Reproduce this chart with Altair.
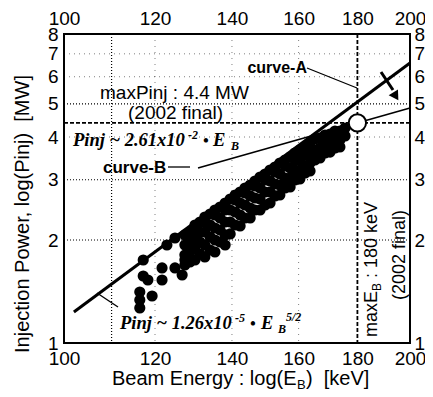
import altair as alt
import pandas as pd

SANS = "Liberation Sans, Arial, Helvetica, sans-serif"
SERIF = "Liberation Serif, Times New Roman, serif"

# ---- data ----
beam_energy = [
    116.4, 116.4, 116.4, 119.3, 117.2, 118.3, 117.2, 121.7, 121.7, 122.9, 124.9, 126.7, 127.4, 124.9,
    127.4, 127.4, 127.4, 127.4,
    128.7, 128.7, 128.7, 128.7,
    130.0, 130.0, 130.0, 130.0,
    131.3, 131.3, 131.3, 131.3,
    132.6, 132.6, 132.6, 132.6, 132.6,
    134.0, 134.0, 134.0, 134.0,
    135.3, 135.3, 135.3, 135.3, 135.3,
    136.7, 136.7, 136.7, 136.7,
    138.1, 138.1, 138.1, 138.1, 138.1,
    139.5, 139.5, 139.5, 139.5,
    140.9, 140.9, 140.9, 140.9,
    142.3, 142.3, 142.3, 142.3,
    143.7, 143.7, 143.7, 143.7,
    145.2, 145.2, 145.2, 145.2,
    146.6, 146.6, 146.6, 146.6,
    148.1, 148.1, 148.1, 148.1,
    149.6, 149.6, 149.6, 149.6,
    151.1, 151.1, 151.1, 151.1,
    152.6, 152.6, 152.6, 152.6,
    154.1, 154.1, 154.1, 154.1,
    155.7, 155.7, 155.7, 155.7,
    157.3, 157.3, 157.3, 157.3,
    158.8, 158.8, 158.8, 158.8,
    160.4, 160.4, 160.4, 160.4,
    162.1, 162.1, 162.1, 162.1,
    163.7, 163.7, 163.7, 163.7,
    165.3, 165.3, 165.3,
    167.0, 167.0, 167.0,
    168.7, 168.7, 168.7,
    170.4, 170.4, 170.4,
    172.1, 172.1, 172.1,
    173.8, 173.8, 173.8,
    175.6, 175.6,
]
inj_power = [
    1.409, 1.336, 1.266, 1.372, 1.570, 1.528, 1.748, 1.528, 1.657, 1.934, 1.657, 1.580, 1.748, 2.027,
    2.069, 1.934, 1.808, 1.690,
    2.111, 1.973, 1.845, 1.725,
    2.212, 2.069, 1.895, 1.748,
    2.258, 2.111, 1.973, 1.820,
    2.335, 2.258, 2.111, 1.934, 1.784,
    2.382, 2.212, 2.041, 1.870,
    2.447, 2.366, 2.168, 2.000, 1.845,
    2.497, 2.319, 2.139, 1.973,
    2.566, 2.447, 2.258, 2.069, 1.934,
    2.636, 2.447, 2.258, 2.083,
    2.707, 2.618, 2.415, 2.212,
    2.763, 2.566, 2.366, 2.198,
    2.838, 2.745, 2.531, 2.319,
    2.896, 2.690, 2.480, 2.319,
    2.975, 2.876, 2.653, 2.447,
    3.056, 2.838, 2.636, 2.447,
    3.118, 2.995, 2.763, 2.531,
    3.203, 2.975, 2.763, 2.566,
    3.268, 3.161, 2.915, 2.690,
    3.358, 3.118, 2.896, 2.707,
    3.426, 3.291, 3.036, 2.838,
    3.496, 3.247, 3.036, 2.857,
    3.592, 3.426, 3.203, 2.995,
    3.665, 3.426, 3.203, 3.015,
    3.740, 3.543, 3.291, 3.140,
    3.841, 3.592, 3.358, 3.182,
    3.947, 3.665, 3.426,
    3.974, 3.715, 3.473,
    4.054, 3.790, 3.592,
    4.081, 3.841, 3.615,
    4.165, 3.894, 3.715,
    4.165, 3.920, 3.740,
    4.250, 4.027,
]

curve_a_E = [102.0, 200.0]
curve_a_P = [1.232, 6.58]
curve_b_E = [130.8, 200.0]
curve_b_P = [3.247, 4.863]
max_E = [180]
max_P = [4.4]

x_ticks = [100, 120, 140, 160, 180, 200]
y_ticks = [1, 2, 3, 4, 5, 6, 7, 8]
grid_x_strong = [110]
grid_x_faint = [120, 140, 160]
grid_y_strong = [2, 3, 5]
grid_y_faint = [4, 6, 7]

# ---- tables ----
pts = pd.DataFrame({"E": beam_energy, "P": inj_power})
dfA = pd.DataFrame({"E": curve_a_E, "P": curve_a_P})
dfB = pd.DataFrame({"E": curve_b_E, "P": curve_b_P})
dfMax = pd.DataFrame({"E": max_E, "P": max_P})
one = pd.DataFrame({"k": [0]})

x_scale = alt.Scale(type="log", domain=[100, 200], nice=False)
y_scale = alt.Scale(type="log", domain=[1, 8], nice=False)


def xaxis(orient, pad):
    return alt.Axis(orient=orient, values=x_ticks, labelExpr="'' + datum.value",
                    labelPadding=pad, title=None, ticks=False, domain=False, grid=False,
                    labelFont=SANS, labelFontSize=19, labelColor="black", labelFlush=False,
                    labelOverlap=False)


def yaxis(orient, pad):
    return alt.Axis(orient=orient, values=y_ticks, labelExpr="'' + datum.value",
                    labelPadding=pad, title=None, ticks=False, domain=False, grid=False,
                    labelFont=SANS, labelFontSize=19, labelColor="black", labelFlush=False,
                    labelOverlap=False)


X = lambda: alt.X("E:Q", scale=x_scale, axis=None)
Y = lambda: alt.Y("P:Q", scale=y_scale, axis=None)

gx_s = alt.Chart(pd.DataFrame({"E": grid_x_strong})).mark_rule(
    color="black", strokeDash=[1, 2], strokeWidth=1.2).encode(x=X())
gx_f = alt.Chart(pd.DataFrame({"E": grid_x_faint})).mark_rule(
    color="black", strokeDash=[1, 5], strokeWidth=1, opacity=0.5).encode(x=X())
gy_s = alt.Chart(pd.DataFrame({"P": grid_y_strong})).mark_rule(
    color="black", strokeDash=[1, 2], strokeWidth=1.1).encode(y=Y())
gy_f = alt.Chart(pd.DataFrame({"P": grid_y_faint})).mark_rule(
    color="black", strokeDash=[1, 4], strokeWidth=1, opacity=0.5).encode(y=Y())

vmax = alt.Chart(dfMax).mark_rule(color="black", strokeDash=[4, 2], strokeWidth=1.8).encode(x=X())
hmax = alt.Chart(dfMax).mark_rule(color="black", strokeDash=[4, 2], strokeWidth=1.8).encode(y=Y())

scatter = alt.Chart(pts).mark_circle(size=125, color="black", opacity=1).encode(
    x=alt.X("E:Q", scale=x_scale, axis=xaxis("bottom", 6)),
    y=alt.Y("P:Q", scale=y_scale, axis=yaxis("left", 6)),
)

lineA = alt.Chart(dfA).mark_line(color="black", strokeWidth=3).encode(
    x=alt.X("E:Q", scale=x_scale, axis=xaxis("top", 6)),
    y=alt.Y("P:Q", scale=y_scale, axis=yaxis("right", 4)),
)
lineB = alt.Chart(dfB).mark_line(color="black", strokeWidth=1.7).encode(x=X(), y=Y())

circ = alt.Chart(dfMax).mark_point(shape="circle", filled=True, fill="white", stroke="black",
                                   strokeWidth=2, size=300, opacity=1).encode(x=X(), y=Y())


def seg(x1, y1, x2, y2, w=1.3):
    return alt.Chart(one).mark_rule(color="black", strokeWidth=w).encode(
        x=alt.value(x1), y=alt.value(y1), x2=alt.value(x2), y2=alt.value(y2))


def txt(s, x, y, size=19, font=SANS, style="normal", weight="normal", align="left", angle=0):
    return alt.Chart(one).mark_text(fontSize=size, font=font, fontStyle=style, fontWeight=weight,
                                    align=align, baseline="alphabetic", angle=angle,
                                    color="black").encode(
        x=alt.value(x), y=alt.value(y), text=alt.value(s))


leaders = [
    seg(243, 34, 293, 54),          # curve-A leader
    seg(33, 259, 54, 273),          # formula A leader
    seg(104, 133, 126, 133),        # curve-B leader
    seg(317, 38, 329, 56, 3),       # arrow shaft
]
arrow_head = alt.Chart(one).mark_point(shape="triangle", filled=True, color="black", size=120,
                                       angle=148, opacity=1).encode(
    x=alt.value(331), y=alt.value(61))

BI = dict(font=SERIF, style="italic", weight="bold")
texts = [
    txt("curve-A", 243, 39, size=16, weight="bold", align="right"),
    txt("maxPinj : 4.4 MW", 36, 65, size=19),
    txt("(2002 final)", 64, 85, size=19),
    # formula B
    txt("Pinj ~ 2.61x10", 9, 112, size=18.5, **BI),
    txt("-2", 124, 105, size=12, **BI),
    txt("\u2022", 139, 112, size=16, **BI),
    txt("E", 149, 112, size=18.5, **BI),
    txt("B", 167, 116, size=12, **BI),
    txt("curve-B", 39, 139, size=17, weight="bold"),
    # formula A
    txt("Pinj ~ 1.26x10", 56, 295, size=18.5, **BI),
    txt("-5", 171, 288, size=12, **BI),
    txt("\u2022", 186, 295, size=16, **BI),
    txt("E", 197, 295, size=18.5, **BI),
    txt("B", 214, 299, size=12, **BI),
    txt("5/2", 222, 287, size=12, **BI),
    # vertical annotation for max beam energy
    txt("maxE", 313, 303, size=18, angle=270),
    txt("B", 317, 257, size=12, angle=270),
    txt(": 180 keV", 313, 244, size=18, angle=270),
    txt("(2002 final)", 341, 221, size=18, align="center", angle=270),
    # axis titles
    txt("Beam Energy : log(E", 48, 351, size=20),
    txt("B", 233, 355, size=13),
    txt(")\u00a0\u00a0[keV]", 242, 351, size=20),
    txt("Injection Power, log(Pinj)\u00a0\u00a0[MW]", -35, 180, size=20, align="center", angle=270),
]

chart = alt.layer(
    gx_s, gx_f, gy_s, gy_f, vmax, hmax, scatter, lineA, lineB, circ,
    *leaders, arrow_head, *texts
).resolve_axis(x="independent", y="independent").properties(
    width=346, height=309,
    padding={"left": 56, "top": 26, "right": 15, "bottom": 52},
    autosize=alt.AutoSizeParams(type="none"),
).configure_view(stroke="black", strokeWidth=2)

chart.save("out.html", embed_options={"renderer": "svg", "actions": False})
